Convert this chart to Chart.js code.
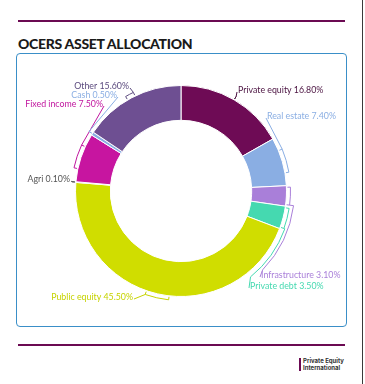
<!DOCTYPE html>
<html>
<head>
<meta charset="utf-8">
<script src="https://cdn.jsdelivr.net/npm/chart.js@4/dist/chart.umd.min.js"></script>
<style>
  html,body{margin:0;padding:0;background:#fff;}
  body{width:365px;height:384px;position:relative;overflow:hidden;font-family:'Lato',sans-serif;}
  .rule{position:absolute;left:18px;width:327px;height:2px;background:#6b0a52;}
  .title{position:absolute;left:18px;top:35px;font-size:14px;font-weight:900;color:#1a1a1a;letter-spacing:-0.3px;}
  .box{position:absolute;left:16px;top:53px;width:331px;height:274px;box-sizing:border-box;border:1px solid #3a8fc8;border-radius:4px;}
  .edge{position:absolute;left:362px;top:0;width:1px;height:384px;background:#3a3a3a;}
  .logo{position:absolute;left:299px;top:358px;border-left:2px solid #6b0a52;padding-left:2px;font-family:'Inter',sans-serif;font-size:6px;font-weight:700;line-height:6.5px;color:#333;}
  canvas{position:absolute;left:0;top:0;}
</style>
</head>
<body>
<div class="rule" style="top:20px"></div>
<div class="title">OCERS ASSET ALLOCATION</div>
<div class="box"></div>
<div class="rule" style="top:344px"></div>
<div class="logo">Private Equity<br>International</div>
<div class="edge"></div>
<canvas id="donut" width="365" height="384"></canvas>
<script>
'use strict';

// ── DATA ─────────────────────────────────────────────────
const assetLabels = ['Private equity','Real estate','Infrastructure','Private debt','Public equity','Agri','Fixed income','Cash','Other'];
const assetValues = [16.8, 7.4, 3.1, 3.5, 45.5, 0.1, 7.5, 0.5, 15.6];
const sliceColors = ['#6e0b55','#8aaee3','#a97fd9','#45d9b0','#d0dd00','#9a9a9a','#c715a0','#8aaee3','#6e4f92'];
const textColors  = ['#4a1240','#8aaee3','#a97fd9','#45d9b0','#c6d300','#555555','#c0159e','#8aaee3','#5b4a7e'];

// label placement (text anchor, alignment, optional arc detour in degrees)
const labelLayout = [
  {x:238, y:90,  align:'left',  maxSpan:0},
  {x:267, y:116, align:'left'},
  {x:261, y:275, align:'left',  via:134, vr:8},
  {x:250, y:286, align:'left',  via:141, vr:5},
  {x:133, y:297, align:'right'},
  {x:70,  y:179, align:'right'},
  {x:103, y:104, align:'right'},
  {x:117, y:95,  align:'right'},
  {x:129, y:86,  align:'right', maxSpan:0.08}
];

// ── LEADER LABEL PLUGIN ──────────────────────────────────
const leaderLabels = {
  id:'leaderLabels',
  afterDatasetsDraw(chart){
    const {ctx} = chart;
    const meta = chart.getDatasetMeta(0);
    ctx.save();
    ctx.font = "8.8px 'Lato'";
    ctx.textBaseline = 'middle';
    ctx.lineWidth = 1;
    meta.data.forEach((el, i) => {
      const p = el.getProps(['x','y','startAngle','endAngle','outerRadius'], true);
      const lay = labelLayout[i];
      const col = textColors[i];
      const pt = (a, r) => [p.x + Math.cos(a)*r, p.y + Math.sin(a)*r];
      const r1 = p.outerRadius + 1, r2 = p.outerRadius + 4;
      const mid = (p.startAngle + p.endAngle)/2;
      const cap = lay.maxSpan !== undefined ? lay.maxSpan : 0.22;
      const span = Math.max(0, Math.min(p.endAngle - p.startAngle - 0.03, cap));
      const a0 = mid - span/2, a1 = mid + span/2;

      ctx.strokeStyle = col;
      ctx.beginPath();
      ctx.moveTo(...pt(a0, r1));
      ctx.lineTo(...pt(a0, r2));
      if(span > 0) ctx.arc(p.x, p.y, r2, a0, a1);
      ctx.lineTo(...pt(a1, r1));
      ctx.stroke();

      // anchor beside text
      const ax = lay.align === 'left' ? lay.x - 1 : lay.x + 1;
      const ay = lay.y + 2;
      const cands = [a0, mid, a1];
      let best = cands[0], bd = Infinity;
      cands.forEach(a => {
        const [qx, qy] = pt(a, r2);
        const d = Math.hypot(qx-ax, qy-ay);
        if(d < bd){ bd = d; best = a; }
      });
      ctx.beginPath();
      ctx.moveTo(...pt(best, r2));
      if(lay.via !== undefined){
        const va = (lay.via - 90) * Math.PI/180;
        const rr = p.outerRadius + lay.vr;
        ctx.lineTo(...pt(best, rr));
        ctx.arc(p.x, p.y, rr, best, va);
      }
      ctx.lineTo(ax, ay);
      ctx.stroke();

      ctx.fillStyle = col;
      ctx.textAlign = lay.align;
      ctx.fillText(`${assetLabels[i]} ${assetValues[i].toFixed(2)}%`, lay.x, lay.y);
    });
    ctx.restore();
  }
};

new Chart(document.getElementById('donut').getContext('2d'), {
  type:'doughnut',
  data:{
    labels: assetLabels,
    datasets:[{
      data: assetValues,
      backgroundColor: sliceColors,
      borderColor: '#ffffff',
      borderWidth: 1
    }]
  },
  options:{
    responsive:false,
    animation:false,
    cutout:'67%',
    layout:{ padding:{ top:85, bottom:87, left:75, right:78 } },
    plugins:{ legend:{ display:false }, tooltip:{ enabled:false } }
  },
  plugins:[ leaderLabels ]
});
</script>
</body>
</html>
